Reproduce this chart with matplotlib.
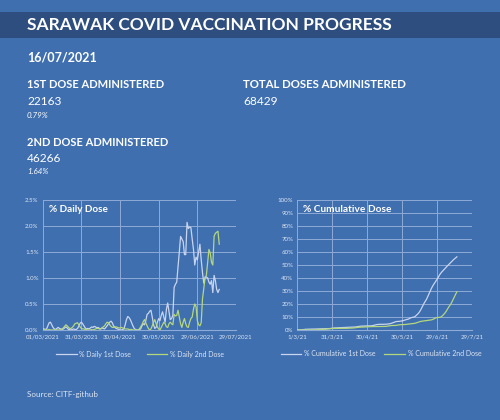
import numpy as np
import pandas as pd
import matplotlib
matplotlib.use("Agg")
import matplotlib.pyplot as plt
import matplotlib.dates as mdates
from matplotlib.ticker import FuncFormatter, MultipleLocator

# ---------------- data ----------------
start_date = "2021-03-01"
daily_1st = [0.03, 0.02, 0.01, 0.02, 0.08, 0.14, 0.15, 0.10, 0.05, 0.02,
             0.01, 0.03, 0.05, 0.03, 0.02, 0.01, 0.02, 0.04, 0.06, 0.04,
             0.01, 0.01, 0.00, 0.01, 0.02, 0.01, 0.01, 0.03, 0.07, 0.13,
             0.15, 0.12, 0.08, 0.04, 0.02, 0.03, 0.02, 0.04, 0.06, 0.05,
             0.07, 0.06, 0.04, 0.05, 0.03, 0.02, 0.04, 0.03, 0.02, 0.05,
             0.08, 0.12, 0.15, 0.17, 0.14, 0.08, 0.05, 0.03, 0.02, 0.01,
             0.00, 0.00, 0.01, 0.02, 0.10, 0.20, 0.26, 0.24, 0.20, 0.14,
             0.08, 0.03, 0.01, 0.00, 0.00, 0.01, 0.02, 0.08, 0.12, 0.10,
             0.18, 0.30, 0.32, 0.36, 0.38, 0.25, 0.10, 0.03, 0.05, 0.15,
             0.22, 0.18, 0.28, 0.35, 0.25, 0.15, 0.40, 0.52, 0.35, 0.20,
             0.22, 0.28, 0.82, 0.88, 0.92, 1.20, 1.50, 1.80, 1.75, 1.70,
             1.45, 1.45, 2.07, 1.95, 1.98, 1.97, 1.75, 1.55, 1.25, 1.40,
             1.35, 1.50, 1.65, 1.35, 1.10, 0.90, 1.02, 1.02, 1.00, 0.92,
             0.88, 0.95, 0.72, 1.05, 0.95, 0.78, 0.72, 0.78]
daily_2nd = [0.00, 0.00, 0.01, 0.00, 0.00, 0.01, 0.00, 0.00, 0.00, 0.00,
             0.01, 0.00, 0.00, 0.00, 0.01, 0.02, 0.04, 0.07, 0.10, 0.08,
             0.05, 0.03, 0.03, 0.05, 0.08, 0.12, 0.13, 0.14, 0.10, 0.06,
             0.03, 0.02, 0.02, 0.01, 0.01, 0.00, 0.00, 0.00, 0.01, 0.00,
             0.01, 0.02, 0.03, 0.03, 0.02, 0.02, 0.04, 0.06, 0.08, 0.12,
             0.15, 0.14, 0.10, 0.07, 0.05, 0.05, 0.06, 0.06, 0.05, 0.04,
             0.04, 0.05, 0.04, 0.03, 0.02, 0.02, 0.02, 0.01, 0.01, 0.01,
             0.00, 0.00, 0.00, 0.00, 0.00, 0.02, 0.06, 0.10, 0.16, 0.20,
             0.14, 0.08, 0.03, 0.00, 0.02, 0.08, 0.15, 0.20, 0.12, 0.06,
             0.02, 0.00, 0.05, 0.10, 0.15, 0.12, 0.06, 0.05, 0.12, 0.15,
             0.12, 0.10, 0.30, 0.27, 0.28, 0.38, 0.25, 0.12, 0.05, 0.15,
             0.22, 0.12, 0.06, 0.05, 0.15, 0.22, 0.25, 0.40, 0.50, 0.45,
             0.18, 0.10, 0.08, 0.14, 0.60, 0.80, 1.00, 1.05, 1.30, 1.55,
             1.48, 1.30, 1.25, 1.80, 1.86, 1.88, 1.90, 1.65]

title = "SARAWAK COVID VACCINATION PROGRESS"
report_date = "16/07/2021"
first_total, first_pct = "22163", "0.79%"
second_total, second_pct = "46266", "1.64%"
all_total = "68429"
daily_labels = ["% Daily 1st Dose", "% Daily 2nd Dose"]
cum_labels = ["% Cumulative 1st Dose", "% Cumulative 2nd Dose"]
source = "Source: CITF-github"

dates = pd.date_range(start_date, periods=len(daily_1st), freq="D")
cum_1st = np.cumsum(daily_1st)
cum_2nd = np.cumsum(daily_2nd)

# ---------------- style ----------------
BG = "#3F6FAF"
BAND = "#2D4E7E"
WHITE = "#FFFFFF"
TICK = "#DCE4F2"
GRID = "#8FAAD6"
C1 = "#C9D5F0"
C2 = "#B5D77E"
FONT = ["Lato", "DejaVu Sans"]
plt.rcParams["font.family"] = FONT

W, H = 500, 420
fig = plt.figure(figsize=(W / 100, H / 100), dpi=100, facecolor=BG)


def fx(x):
    return x / W


def fy(y):
    return 1 - y / H


# title band
fig.patches.append(plt.Rectangle((0, fy(38)), 1, (38 - 12) / H, transform=fig.transFigure,
                                 facecolor=BAND, edgecolor="none", zorder=0))
fig.text(fx(27), fy(25.5), title, color=WHITE, fontsize=12.5, fontweight="bold", va="center")
fig.text(fx(27), fy(57), report_date, color=WHITE, fontsize=9, fontweight="bold", va="center")
fig.text(fx(27), fy(85), "1ST DOSE ADMINISTERED", color=WHITE, fontsize=8, fontweight="bold", va="center")
fig.text(fx(27), fy(101.5), first_total, color=WHITE, fontsize=8.6, va="center")
fig.text(fx(27), fy(115), first_pct, color=WHITE, fontsize=5.8, style="italic", va="center")
fig.text(fx(243), fy(85), "TOTAL DOSES ADMINISTERED", color=WHITE, fontsize=8.2, fontweight="bold", va="center")
fig.text(fx(243), fy(101.5), all_total, color=WHITE, fontsize=8.6, va="center")
fig.text(fx(27), fy(142), "2ND DOSE ADMINISTERED", color=WHITE, fontsize=8, fontweight="bold", va="center")
fig.text(fx(27), fy(158.5), second_total, color=WHITE, fontsize=8.6, va="center")
fig.text(fx(27), fy(172), second_pct, color=WHITE, fontsize=5.8, style="italic", va="center")
fig.text(fx(27), fy(395), source, color=TICK, fontsize=5.8, va="center")

xmin = pd.Timestamp("2021-03-01")
xmax = pd.Timestamp("2021-07-29")
xticks = pd.date_range(xmin, xmax, freq="30D")


def style_axes(ax):
    ax.set_facecolor(BG)
    for s in ["top", "right", "left"]:
        ax.spines[s].set_visible(False)
    ax.spines["bottom"].set_color(GRID)
    ax.spines["bottom"].set_linewidth(0.8)
    ax.grid(True, color=GRID, linewidth=0.7)
    ax.set_axisbelow(True)
    ax.tick_params(colors=TICK, labelsize=4.4, length=0, pad=3)
    ax.set_xlim(xmin, xmax)
    ax.set_xticks(xticks)


# daily chart
ax1 = fig.add_axes([fx(42.7), fy(330), fx(236 - 42.7), (330 - 200) / H])
style_axes(ax1)
ax1.plot(dates, daily_1st, color=C1, lw=0.9, label=daily_labels[0])
ax1.plot(dates, daily_2nd, color=C2, lw=0.9, label=daily_labels[1])
ax1.set_ylim(0, 2.5)
ax1.yaxis.set_major_locator(MultipleLocator(0.5))
ax1.yaxis.set_major_formatter(FuncFormatter(lambda v, p: f"{v:.1f}%"))
ax1.xaxis.set_major_formatter(mdates.DateFormatter("%d/%m/%Y"))
ax1.text(0.033, 0.93, "% Daily Dose", transform=ax1.transAxes, color=WHITE,
         fontsize=7.2, fontweight="bold", va="center")
fig.legend(handles=ax1.get_lines(), labels=daily_labels, loc="center",
           bbox_to_anchor=(fx(140), fy(354)), ncol=2, frameon=False, fontsize=5,
           labelcolor=TICK, handlelength=3.0, columnspacing=2.2, handletextpad=0.4)

# cumulative chart
ax2 = fig.add_axes([fx(297.3), fy(330), fx(472 - 297.3), (330 - 200) / H])
style_axes(ax2)
ax2.plot(dates, cum_1st, color=C1, lw=0.9, label=cum_labels[0])
ax2.plot(dates, cum_2nd, color=C2, lw=0.9, label=cum_labels[1])
ax2.set_ylim(0, 100)
ax2.yaxis.set_major_locator(MultipleLocator(10))
ax2.yaxis.set_major_formatter(FuncFormatter(lambda v, p: f"{v:.0f}%"))
ax2.xaxis.set_major_formatter(FuncFormatter(
    lambda v, p: (lambda d: f"{d.day}/{d.month}/{d.strftime('%y')}")(mdates.num2date(v))))
ax2.text(0.035, 0.93, "% Cumulative Dose", transform=ax2.transAxes, color=WHITE,
         fontsize=7.3, fontweight="bold", va="center")
fig.legend(handles=ax2.get_lines(), labels=cum_labels, loc="center",
           bbox_to_anchor=(fx(381), fy(354)), ncol=2, frameon=False, fontsize=5,
           labelcolor=TICK, handlelength=3.0, columnspacing=1.2, handletextpad=0.4)

fig.savefig("out.png", dpi=100, facecolor=BG)
